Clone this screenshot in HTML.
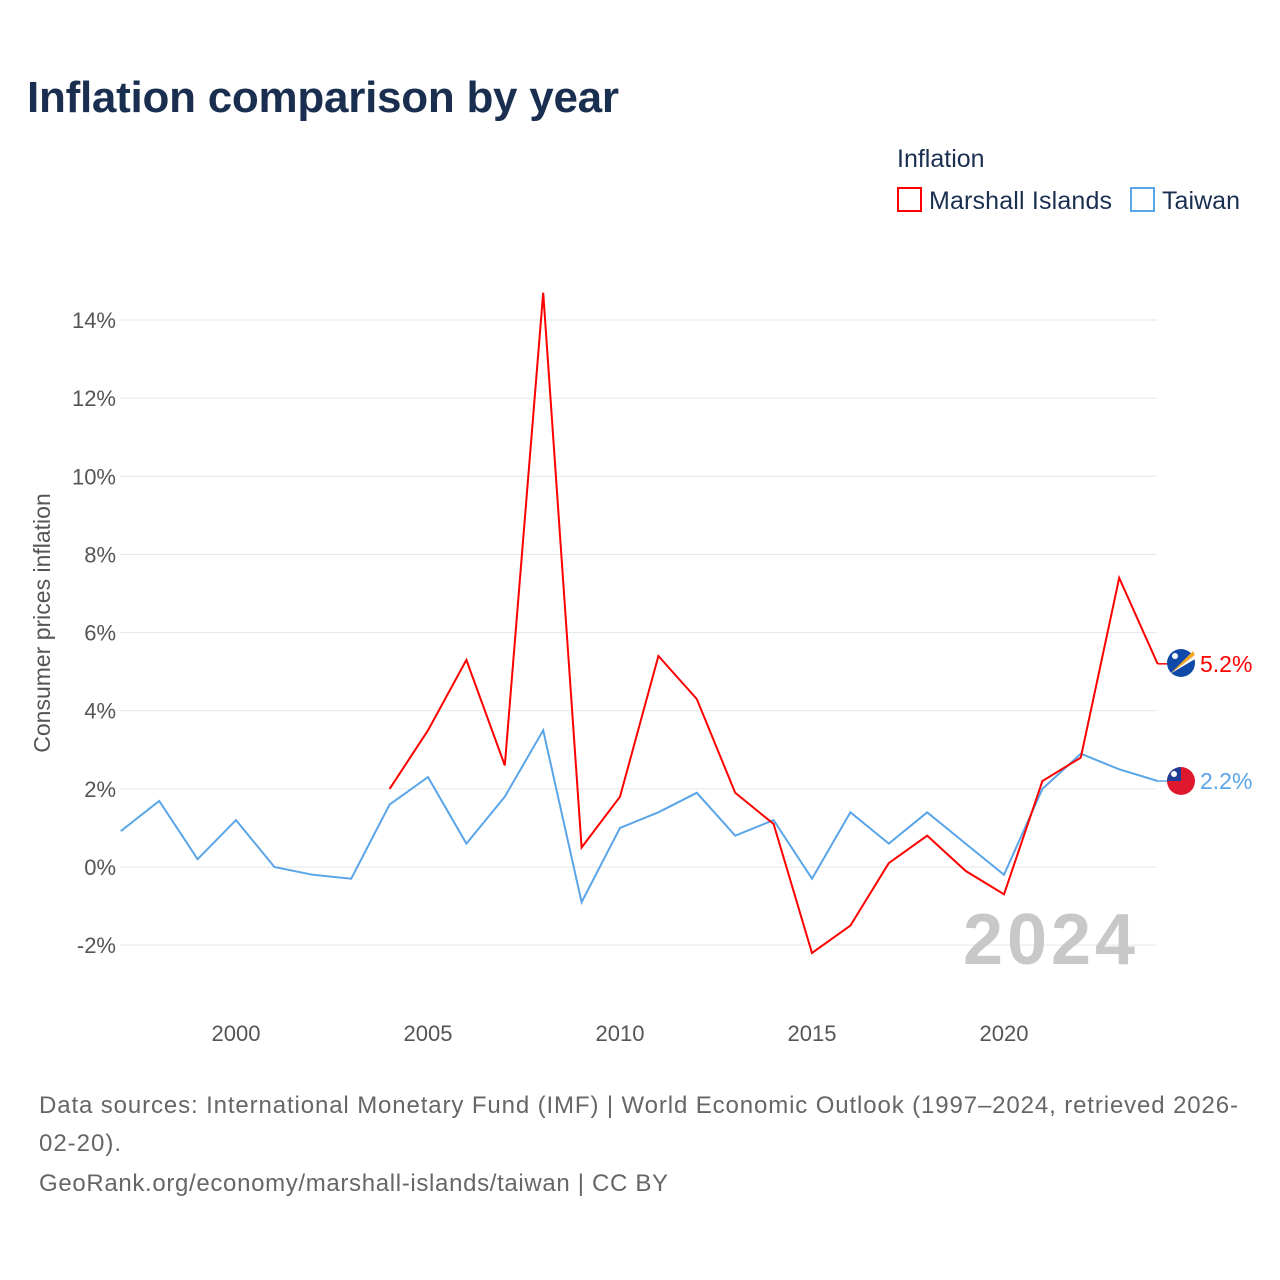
<!DOCTYPE html>
<html><head><meta charset="utf-8"><style>
body{margin:0;background:#fff;font-family:"Liberation Sans",sans-serif;}
svg{display:block}
</style></head><body>
<svg width="1280" height="1280" xmlns="http://www.w3.org/2000/svg" id="chart">
<text x="27" y="112" font-size="44" font-weight="bold" fill="#1a2f50" textLength="592">Inflation comparison by year</text>
<g>
<text x="897" y="167" font-size="25" fill="#1a2f50">Inflation</text>
<g><rect x="898" y="188" width="23" height="23" fill="none" stroke="#ff0000" stroke-width="2"/><text x="929" y="209" font-size="25" fill="#1a2f50" textLength="183">Marshall Islands</text></g>
<g><rect x="1131" y="188" width="23" height="23" fill="none" stroke="#5aa5e8" stroke-width="2"/><text x="1162" y="209" font-size="25" fill="#1a2f50" textLength="78">Taiwan</text></g>
</g>
<text transform="translate(50,623) rotate(-90)" text-anchor="middle" font-size="23" fill="#555">Consumer prices inflation</text>
<g id="grid"></g><g id="yticks"></g><g id="xticks"></g>
<text x="1135" y="964" text-anchor="end" font-size="72" font-weight="bold" fill="#c8c8c8" textLength="172">2024</text>
<g id="series"></g>
<g><circle cx="1181" cy="663" r="14" fill="#0f4aa8"/><path d="M1170 674 L1193 651 L1195 655 Z" fill="#f5a623"/><path d="M1170 674 L1195 655 L1195 659 Z" fill="#fff"/><circle cx="1175" cy="656" r="3" fill="#fff"/></g>
<g><circle cx="1181" cy="781" r="14" fill="#e0182d"/><path d="M1167 781 A14 14 0 0 1 1181 767 L1181 781 Z" fill="#1f3c96"/><circle cx="1174" cy="774" r="3" fill="#fff"/></g>
<g font-size="24" fill="#666">
<text x="39" y="1113" textLength="1199">Data sources: International Monetary Fund (IMF) | World Economic Outlook (1997–2024, retrieved 2026-</text>
<text x="39" y="1151" textLength="82">02-20).</text>
<text x="39" y="1191" textLength="629">GeoRank.org/economy/marshall-islands/taiwan | CC BY</text>
</g>
</svg>
<script>
const years=[1997,1998,1999,2000,2001,2002,2003,2004,2005,2006,2007,2008,2009,2010,2011,2012,2013,2014,2015,2016,2017,2018,2019,2020,2021,2022,2023,2024];
const taiwan=[0.92,1.69,0.2,1.2,0,-0.2,-0.3,1.6,2.3,0.6,1.8,3.5,-0.9,1.0,1.4,1.9,0.8,1.2,-0.3,1.4,0.6,1.4,0.6,-0.2,2.0,2.9,2.5,2.2];
const marshall=[null,null,null,null,null,null,null,2.0,3.5,5.3,2.6,14.7,0.5,1.8,5.4,4.3,1.9,1.1,-2.2,-1.5,0.1,0.8,-0.1,-0.7,2.2,2.8,7.4,5.2];
const yTicks=[-2,0,2,4,6,8,10,12,14];
const xTicks=[2000,2005,2010,2015,2020];
const NS="http://www.w3.org/2000/svg";
const xS=y=>120.8+(y-1997)*38.4;
const yS=v=>867-v*39.07;
function mk(t,a,p){const e=document.createElementNS(NS,t);for(const k in a)e.setAttribute(k,a[k]);p.appendChild(e);return e;}
const grid=document.getElementById('grid'),yt=document.getElementById('yticks'),xt=document.getElementById('xticks'),ser=document.getElementById('series');
yTicks.forEach(v=>{
 const l=mk('line',{x1:120,x2:1157,y1:yS(v),y2:yS(v),stroke:'#e6e6e6','stroke-width':1},grid);
 
 
 const t=mk('text',{x:116,y:yS(v)+8,'text-anchor':'end','font-size':22,fill:'#555'},yt);
 t.textContent=v+'%';
 
 
});
xTicks.forEach(y=>{
 const t=mk('text',{x:xS(y),y:1041,'text-anchor':'middle','font-size':22,fill:'#555'},xt);
 t.textContent=y;
 
 
});
function line(vals,color,name){
 let d='';vals.forEach((v,i)=>{if(v==null)return;d+=(d?'L':'M')+xS(years[i]).toFixed(1)+' '+yS(v).toFixed(1);});
 const p=mk('path',{d:d,fill:'none',stroke:color,'stroke-width':2},ser);
 
 
 const last=vals[vals.length-1];
 mk('line',{x1:xS(2024),x2:1167,y1:yS(last),y2:yS(last),stroke:color,'stroke-width':1.5},ser);
 const t=mk('text',{x:1200,y:yS(last)+8,'font-size':23,fill:color},ser);
 t.textContent=last.toFixed(1)+'%';
 
 
}
line(taiwan,'#5aa5e8','taiwan-line');
line(marshall,'#ff0000','marshall-islands-line');
</script>
</body></html>
